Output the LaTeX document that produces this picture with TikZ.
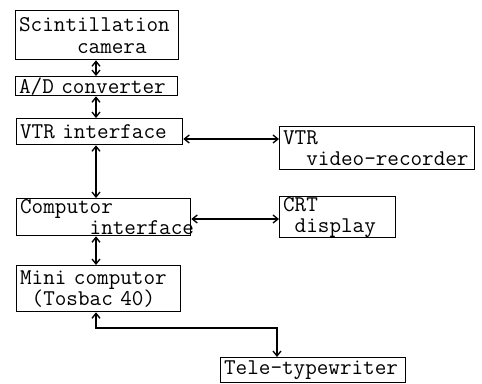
\documentclass[tikz,border=0pt]{standalone}
\usepackage{fontspec}
\setmonofont{Latin Modern Mono}
\usetikzlibrary{arrows.meta}
\begin{document}
\begin{tikzpicture}[x=1pt,y=-1pt,
  box/.style={draw, line width=1.3pt, anchor=north west, align=left,
    inner xsep=3.5pt, inner ysep=0pt,
    font=\ttfamily\fontsize{22.5}{21}\selectfont},
  link/.style={line width=1.3pt,
    {Straight Barb[length=5pt,width=8pt]}-{Straight Barb[length=5pt,width=8pt]}}]
\useasboundingbox (0,0) rectangle (482,383);

% blocks
\node[box, text width=156pt, minimum height=49pt] (cam) at (15,10)
  {Scintillation\\[1pt]\hphantom{xxxxx}camera};
\node[box, text width=155pt, minimum height=19pt] (ad) at (15,76)
  {A/D converter};
\node[box, text width=159pt, minimum height=26pt] (vtri) at (16,118)
  {VTR interface};
\node[box, text width=188pt, minimum height=43pt] (vtr) at (279,126)
  {VTR\\\hphantom{xx}video-recorder};
\node[box, text width=167pt, minimum height=37pt] (ci) at (16,198)
  {Computor\\\hphantom{xxxxxx}interface};
\node[box, text width=109pt, minimum height=41pt] (crt) at (279,196)
  {CRT\\\hphantom{x}display};
\node[box, text width=157pt, minimum height=46pt] (mc) at (16,265)
  {Mini computor\\\hphantom{x}(Tosbac 40)};
\node[box, text width=178pt, minimum height=25pt] (tt) at (220,357)
  {Tele-typewriter};

% guide coordinates for the connectors
\coordinate (spine) at (96,0);
\coordinate (row1) at (0,139);
\coordinate (row2) at (0,219);
\coordinate (bend) at (277,328);

% connectors
\draw[link] (cam.south -| spine) -- (ad.north -| spine);
\draw[link] (ad.south -| spine) -- (vtri.north -| spine);
\draw[link] (vtri.east |- row1) -- (vtr.west |- row1);
\draw[link] (vtri.south -| spine) -- (ci.north -| spine);
\draw[link] (ci.east |- row2) -- (crt.west |- row2);
\draw[link] (ci.south -| spine) -- (mc.north -| spine);
\draw[link] (mc.south -| spine) |- (bend) -- (bend |- tt.north);
\end{tikzpicture}
\end{document}
